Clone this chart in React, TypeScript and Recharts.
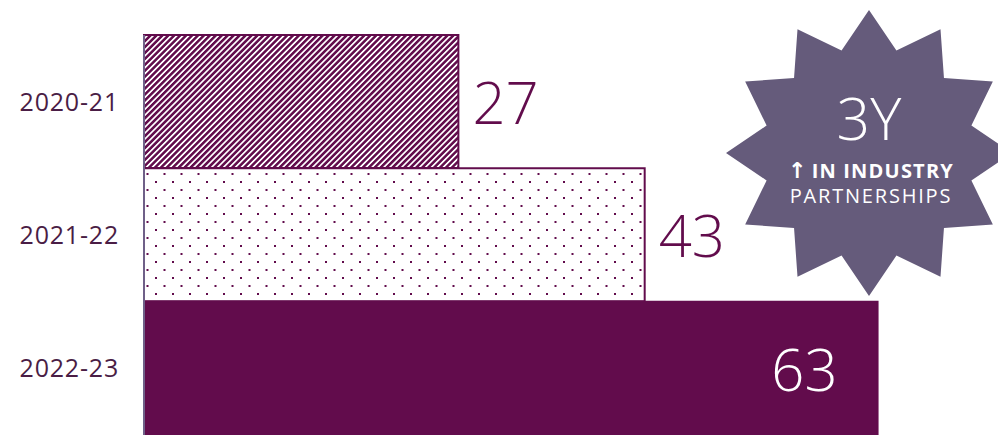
import { BarChart, Bar, XAxis, YAxis, Cell, LabelList } from "recharts";

const years = ["2020-21", "2021-22", "2022-23"];
const partnerships = [27, 43, 63];
const fills = ["url(#stripes)", "url(#dots)", "#620c4c"];

const badgeBig = "3Y";
const badgeArrow = "↑";
const badgeLine1 = "IN INDUSTRY";
const badgeLine2 = "PARTNERSHIPS";

const PURPLE = "#620c4c";
const STAR = "#655b7b";

const data = years.map((year, i) => ({ year, value: partnerships[i] }));

function starPoints(cx: number, cy: number, outer: number, inner: number, n: number) {
  const pts: string[] = [];
  for (let i = 0; i < n * 2; i++) {
    const r = i % 2 === 0 ? outer : inner;
    const a = -Math.PI / 2 + (i * Math.PI) / n;
    pts.push(`${cx + r * Math.cos(a)},${cy + r * Math.sin(a)}`);
  }
  return pts.join(" ");
}

// last bar gets its number inside, in white; the others sit just past the end
const ValueLabel = (props: any) => {
  const { x, y, width, height, value, index } = props;
  const inside = index === partnerships.length - 1;
  return (
    <text
      x={inside ? x + width - 40 : x + width + 14}
      y={y + height / 2}
      textAnchor={inside ? "end" : "start"}
      dominantBaseline="central"
      fill={inside ? "#ffffff" : PURPLE}
      fontSize={58}
      fontFamily="'Open Sans', sans-serif"
      fontWeight={300}
    >
      {value}
    </text>
  );
};

export default function App() {
  return (
    <div style={{ position: "absolute", left: 0, top: 0, width: 998, height: 435, background: "#fff" }}>
      <BarChart
        width={998}
        height={435}
        data={data}
        layout="vertical"
        margin={{ top: 35, right: 4, bottom: 0, left: 0 }}
        barCategoryGap={0}
      >
        <defs>
          <pattern id="stripes" patternUnits="userSpaceOnUse" width={4.2} height={4.2} patternTransform="rotate(45)">
            <rect x={0} y={0} width={2.5} height={4.2} fill={PURPLE} />
          </pattern>
          <pattern id="dots" patternUnits="userSpaceOnUse" width={17} height={16} x={0} y={5}>
            <rect x={2} y={0} width={2} height={2} fill={PURPLE} />
            <rect x={10.5} y={8} width={2} height={2} fill={PURPLE} />
          </pattern>
        </defs>
        <XAxis type="number" domain={[0, 73]} hide />
        <YAxis
          type="category"
          dataKey="year"
          width={144}
          axisLine={{ stroke: "#6f6088", strokeWidth: 2 }}
          tickLine={false}
          tickMargin={19}
          tick={{ fontSize: 25, fill: "#4a1d45", fontFamily: "'Open Sans', sans-serif", letterSpacing: 0.8 }}
        />
        <Bar dataKey="value" isAnimationActive={false} stroke={PURPLE} strokeWidth={2}>
          {data.map((d, i) => (
            <Cell key={d.year} fill={fills[i]} />
          ))}
          <LabelList dataKey="value" content={ValueLabel} />
        </Bar>
      </BarChart>
      <svg
        width={998}
        height={435}
        style={{ position: "absolute", left: 0, top: 0, pointerEvents: "none" }}
      >
        <polygon points={starPoints(869, 153, 143, 106, 12)} fill={STAR} />
        <text x={869} y={140} textAnchor="middle" fill="#fff" fontSize={59} fontWeight={300} fontFamily="'Open Sans', sans-serif">
          {badgeBig}
        </text>
        <text x={871} y={178} textAnchor="middle" fill="#fff" fontSize={20} fontWeight={700} fontFamily="'Open Sans', sans-serif" letterSpacing={1.2}>
          <tspan fontFamily="'DejaVu Sans', sans-serif" fontSize={22} fontWeight={700}>{badgeArrow}</tspan>
          <tspan dx={4}>{badgeLine1}</tspan>
        </text>
        <text x={871} y={203} textAnchor="middle" fill="#fff" fontSize={20} fontFamily="'Open Sans', sans-serif" letterSpacing={1.8}>
          {badgeLine2}
        </text>
      </svg>
    </div>
  );
}
